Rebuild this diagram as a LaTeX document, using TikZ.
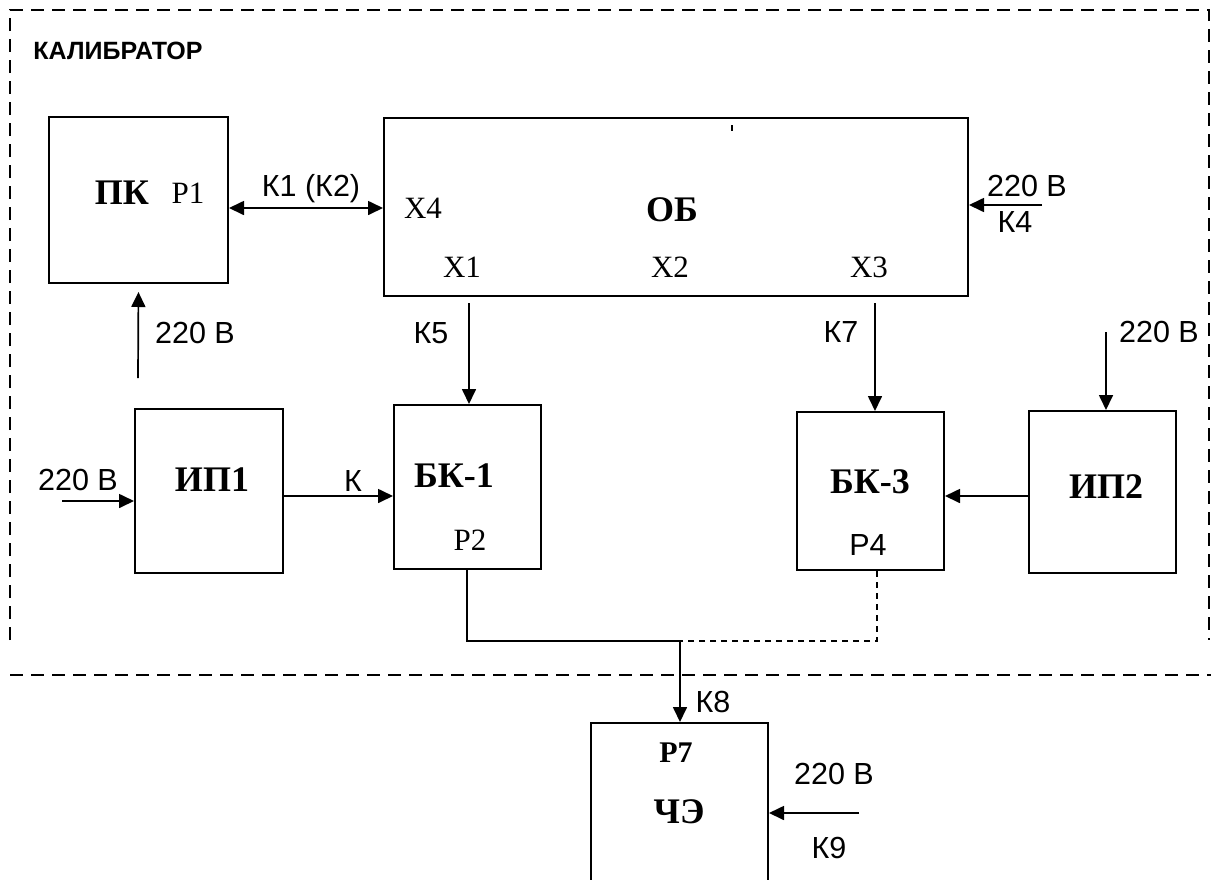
\documentclass[tikz,border=0pt]{standalone}
\usepackage{fontspec}
\setmainfont{Liberation Serif}
\newfontfamily\lsans{Liberation Sans}
\usetikzlibrary{arrows.meta}
\tikzset{
 blk/.style={draw, line width=2pt, inner sep=0pt},
 lab/.style={inner sep=0pt, font=\lsans\fontsize{30.5}{34}\selectfont},
 ttl/.style={inner sep=0pt, font=\lsans\bfseries\fontsize{25}{29}\selectfont},
 ser/.style={inner sep=0pt, font=\fontsize{31}{35}\selectfont},
 bser/.style={inner sep=0pt, font=\bfseries\fontsize{36}{40}\selectfont},
 bsersm/.style={inner sep=0pt, font=\bfseries\fontsize{30}{34}\selectfont},
 con/.style={line width=1.7pt},
 arr/.style={con, -{Triangle[length=15pt,width=14pt]}},
 darr/.style={con, {Triangle[length=15pt,width=14pt]}-{Triangle[length=15pt,width=14pt]}},
 frame/.style={line width=1.8pt, dash pattern=on 13pt off 8pt},
 dotl/.style={line width=1.5pt, dash pattern=on 6pt off 5pt},
}
\begin{document}
\begin{tikzpicture}[x=1pt,y=-1pt]
\useasboundingbox (0,0) rectangle (1211,879);
\clip (0,0) rectangle (1211,879);
\fill[white] (0,0) rectangle (1211,879);

% frame
\coordinate (fbl) at (10,640);
\coordinate (ftl) at (10,10);
\coordinate (ftr) at (1209,10);
\coordinate (fbr) at (1209,640);
\draw[frame] (fbl) -- (ftl) -- (ftr) -- (fbr);
\coordinate (sepl) at (10,675);
\coordinate (sepr) at (1215,675);
\draw[frame] (sepl) -- (sepr);
\node[ttl] (title) at (118,51) {КАЛИБРАТОР};

% blocks
\node[blk, minimum width=179pt, minimum height=166pt] (pk) at (138.5,200) {};
\node[blk, minimum width=584pt, minimum height=178pt] (ob) at (676,207) {};
\node[blk, minimum width=148pt, minimum height=164pt] (ip1) at (209,491) {};
\node[blk, minimum width=147pt, minimum height=164pt] (bk1) at (467.5,487) {};
\node[blk, minimum width=147pt, minimum height=158pt] (bk3) at (870.5,491) {};
\node[blk, minimum width=147pt, minimum height=162pt] (ip2) at (1102.5,492) {};
\node[blk, minimum width=177pt, minimum height=190pt] (che) at (679.5,818) {};

% texts in blocks
\node[bser] (tpk) at (122,193) {ПК};
\node[ser] (tp1) at (188,193) {Р1};
\node[bser] (tob) at (672,210) {ОБ};
\node[ser] (tx4) at (423,208) {Х4};
\node[ser] (tx1) at (462,267) {Х1};
\node[ser] (tx2) at (670,267) {Х2};
\node[ser] (tx3) at (869,267) {Х3};
\fill (731,125) rectangle (733,131);
\node[bser] (tip1) at (212,480) {ИП1};
\node[bser] (tbk1) at (454,476) {БК-1};
\node[ser] (tp2) at (470,540) {Р2};
\node[bser] (tbk3) at (870,482) {БК-3};
\node[lab] (tp4) at (868,545) {Р4};
\node[bser] (tip2) at (1106,487) {ИП2};
\node[bsersm] (tp7) at (676,753) {Р7};
\node[bser] (tche) at (679,812) {ЧЭ};

% connectors
\draw[darr] (pk.east |- tx4) -- (ob.west |- tx4);
\node[lab] (lk1) at (311,189) {К1 (К2)};

\coordinate (pkin) at (138,378);
\draw[arr, shorten >=8pt] (pkin) -- (pk.south);
\node[lab] (l220a) at (195,333) {220 В};

\coordinate (ip1in) at (62,501);
\draw[arr] (ip1in) -- (ip1.west |- ip1in);
\node[lab] (l220b) at (78,480) {220 В};

\coordinate (kline) at (0,496);
\draw[arr] (ip1.east |- kline) -- (bk1.west |- kline);
\node[lab] (lk) at (353,481) {К};

\coordinate (k5x) at (469,0);
\draw[arr, shorten <=6pt] (k5x |- ob.south) -- (k5x |- bk1.north);
\node[lab] (lk5) at (431,333) {К5};

\coordinate (k7x) at (875,0);
\draw[arr, shorten <=6pt] (k7x |- ob.south) -- (k7x |- bk3.north);
\node[lab] (lk7) at (841,332) {К7};

\coordinate (ip2in) at (1106,332);
\draw[arr] (ip2in) -- (ip2in |- ip2.north);
\node[lab] (l220c) at (1159,332) {220 В};

\draw[arr] (ip2.west |- kline) -- (bk3.east |- kline);

\coordinate (obin) at (1042,205);
\draw[arr] (obin) -- (ob.east |- obin);
\node[lab] (l220d) at (1027,186) {220 В};
\node[lab] (lk4) at (1015,222) {К4};

\coordinate (j) at (680,641);
\coordinate (p2x) at (467,0);
\coordinate (p4x) at (877,0);
\draw[con] (p2x |- bk1.south) -- (p2x |- j) -- (j);
\draw[dotl] (p4x |- bk3.south) -- (p4x |- j) -- (j);
\draw[arr] (j) -- (j |- che.north);
\node[lab] (lk8) at (713,702) {К8};

\coordinate (chein) at (859,813);
\draw[arr] (chein) -- (che.east |- chein);
\node[lab] (l220e) at (834,774) {220 В};
\node[lab] (lk9) at (829,848) {К9};
\end{tikzpicture}
\end{document}
